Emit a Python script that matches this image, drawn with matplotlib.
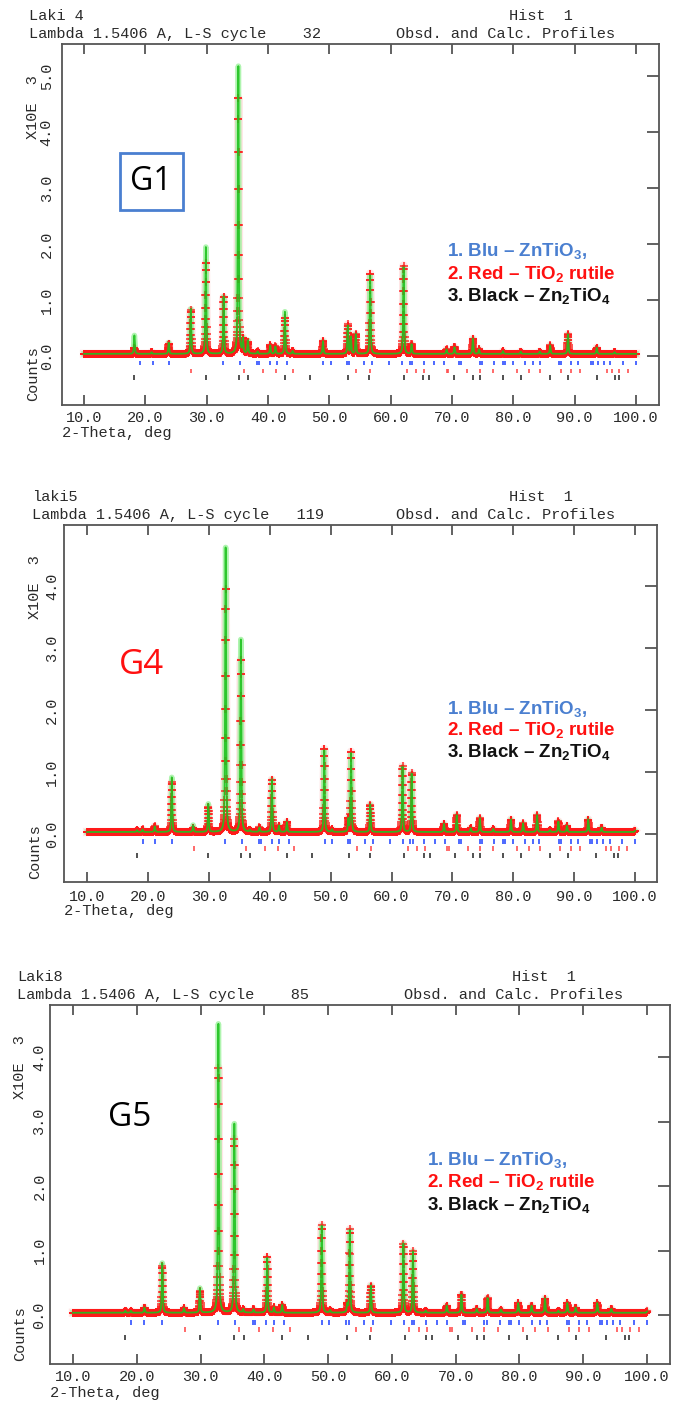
import numpy as np
import matplotlib
matplotlib.use("Agg")
import matplotlib.pyplot as plt
from matplotlib.patches import Rectangle

W, H = 679, 1405

plt.rcParams["mathtext.fontset"] = "custom"
plt.rcParams["mathtext.rm"] = "Liberation Sans:bold"
plt.rcParams["mathtext.it"] = "Liberation Sans:bold"
plt.rcParams["mathtext.bf"] = "Liberation Sans:bold"

MONO = "Liberation Mono"
INK = "#2a2a2a"

# reflection markers (2-theta, deg)
ZNTIO3_REFL = [19.1, 21.2, 23.9, 32.7, 35.4, 38.2, 38.6, 40.3, 41.5, 43.1, 49.0, 50.2,
               52.8, 53.2, 55.7, 57.0, 59.8, 61.9, 63.1, 63.5, 65.4, 67.1, 68.7, 71.1,
               71.4, 74.5, 74.9, 76.9, 78.3, 78.7, 79.9, 81.9, 83.2, 84.3, 87.5, 87.8,
               89.4, 90.6, 92.6, 93.0, 93.8, 94.7, 95.8, 97.9, 100.0]
RUTILE_REFL = [27.5, 36.1, 39.2, 41.3, 44.0, 54.4, 56.7, 62.7, 64.2, 65.5, 69.1, 69.4,
               72.5, 74.5, 76.6, 80.6, 82.5, 84.4, 87.7, 89.4, 90.9, 95.3, 96.1, 97.3, 98.7]
ZN2TIO4_REFL = [18.2, 29.85, 35.2, 36.8, 42.8, 46.9, 53.0, 56.5, 62.1, 65.3, 66.3, 70.4,
                73.4, 74.5, 78.3, 81.2, 86.0, 88.9, 93.6, 96.5, 97.2]

# peak tables: position (deg), calculated and observed height (x10^3 counts over background)
G1_POS = [18.2, 21.0, 23.8, 27.4, 29.85, 32.75, 35.15, 35.9, 36.7, 38.3, 40.35, 41.2,
          42.75, 44.0, 48.95, 53.0, 53.5, 54.3, 56.65, 62.1, 63.4, 69.1, 70.4, 73.4,
          74.4, 78.3, 81.2, 84.3, 86.0, 88.9, 93.6, 96.5]
G1_CALC = [0.33, 0.03, 0.20, 0.80, 1.93, 1.03, 5.20, 0.25, 0.23, 0.04, 0.15, 0.13,
           0.76, 0.05, 0.23, 0.50, 0.30, 0.35, 1.42, 1.55, 0.17, 0.08, 0.12, 0.27,
           0.08, 0.05, 0.04, 0.04, 0.15, 0.35, 0.11, 0.03]
G1_OBS = [0.10, 0.03, 0.18, 0.78, 1.64, 1.02, 4.62, 0.25, 0.20, 0.04, 0.15, 0.13,
          0.65, 0.05, 0.23, 0.52, 0.30, 0.35, 1.45, 1.58, 0.17, 0.08, 0.12, 0.27,
          0.08, 0.05, 0.04, 0.04, 0.15, 0.35, 0.11, 0.03]

G4_POS = [18.2, 19.1, 21.1, 23.9, 27.4, 29.9, 32.75, 35.25, 36.7, 38.3, 40.35, 41.5,
          42.8, 48.95, 50.2, 52.9, 53.35, 56.5, 61.8, 63.3, 68.6, 70.7, 73.0, 74.5,
          76.7, 79.6, 81.6, 83.9, 86.0, 87.4, 88.8, 92.3, 94.5, 100.0]
G4_CALC = [0.03, 0.04, 0.09, 0.88, 0.11, 0.45, 4.63, 3.13, 0.03, 0.07, 0.85, 0.10,
           0.16, 1.33, 0.04, 0.20, 1.28, 0.44, 1.05, 0.94, 0.13, 0.27, 0.06, 0.22,
           0.05, 0.20, 0.14, 0.27, 0.03, 0.17, 0.10, 0.20, 0.07, 0.02]
G4_OBS = [0.03, 0.04, 0.09, 0.80, 0.06, 0.40, 3.95, 2.80, 0.03, 0.07, 0.85, 0.10,
          0.16, 1.35, 0.04, 0.20, 1.30, 0.44, 1.06, 0.95, 0.13, 0.27, 0.06, 0.22,
          0.05, 0.20, 0.14, 0.27, 0.03, 0.17, 0.10, 0.20, 0.07, 0.02]

G5_POS = [18.2, 19.1, 21.2, 24.0, 27.4, 29.9, 32.8, 35.3, 36.7, 38.3, 40.45, 41.5,
          42.8, 49.0, 50.3, 53.0, 53.4, 56.7, 61.8, 63.3, 65.3, 68.6, 70.9, 73.3,
          75.0, 77.1, 79.8, 81.9, 84.0, 86.1, 87.5, 88.8, 92.2, 94.4, 100.0]
G5_CALC = [0.03, 0.03, 0.08, 0.77, 0.07, 0.38, 4.48, 2.93, 0.05, 0.05, 0.86, 0.08,
           0.12, 1.35, 0.04, 0.12, 1.28, 0.42, 1.07, 0.95, 0.03, 0.11, 0.28, 0.06,
           0.23, 0.05, 0.15, 0.11, 0.22, 0.03, 0.15, 0.08, 0.15, 0.06, 0.02]
G5_OBS = [0.03, 0.03, 0.08, 0.72, 0.07, 0.33, 3.80, 2.70, 0.05, 0.05, 0.87, 0.08,
          0.12, 1.36, 0.04, 0.12, 1.29, 0.42, 1.07, 0.95, 0.03, 0.11, 0.28, 0.06,
          0.23, 0.05, 0.15, 0.11, 0.22, 0.03, 0.15, 0.08, 0.15, 0.06, 0.02]

BACKGROUND = 0.035
X_TICKS = [10, 20, 30, 40, 50, 60, 70, 80, 90, 100]

HEADERS = [("Laki 4", "   32"), ("laki5", "  119"), ("Laki8", "   85")]
TAGS = ["G1", "G4", "G5"]


def fx(px):
    return px / W


def fy(py):
    return 1 - py / H


def profile(tth, pos, heights, fwhm=0.18, eta=0.6):
    y = np.full_like(tth, BACKGROUND)
    for p, h in zip(pos, heights):
        d = (tth - p) / (fwhm / 2)
        y += h * (eta / (1 + d ** 2) + (1 - eta) * np.exp(-np.log(2) * d ** 2))
    return y


def draw_panel(fig, box, xlim, ylim, nmax, pos, calc, obs, rows, ypad, xpad):
    l, t, r, b = box
    ax = fig.add_axes([fx(l), fy(b), (r - l) / W, (b - t) / H])
    tth = np.arange(10.0, 100.001, 0.02)
    y_obs = profile(tth, pos, obs)
    y_calc = profile(tth, pos, calc)

    ax.plot(tth, y_obs, color="#ff9c9c", lw=6, alpha=0.25, zorder=1)
    ax.plot(tth, y_calc, color="#8ef08e", lw=4, alpha=0.7, zorder=2)
    ax.plot(tth, y_obs, ls="none", marker="+", ms=6, mew=1.1,
            color="#ff1a1a", alpha=0.9, zorder=3)
    ax.plot(tth, y_calc, color="#1fc21f", lw=1.3, alpha=0.9, zorder=4)

    hl = 0.04
    for refl, yc, col in zip((ZNTIO3_REFL, RUTILE_REFL, ZN2TIO4_REFL), rows,
                             ("#2f4fff", "#ff5050", "#333333")):
        ax.vlines(refl, yc - hl, yc + hl, color=col, lw=1.2, zorder=3)

    ax.set_xlim(*xlim)
    ax.set_ylim(*ylim)
    ax.set_xticks(X_TICKS)
    ax.set_xticklabels([f"{v:.1f}" for v in X_TICKS], family=MONO, fontsize=11, color=INK)
    yt = list(range(0, nmax + 1))
    ax.set_yticks(yt)
    ax.set_yticklabels([f"{v:.1f}" for v in yt], family=MONO, fontsize=11, color=INK,
                       rotation=90, va="center")
    ax.tick_params(axis="x", direction="in", top=True, bottom=True, length=7,
                   width=1.3, color="#555555", pad=xpad)
    ax.tick_params(axis="y", direction="in", left=False, right=True, labelleft=True,
                   length=9, width=1.3, color="#555555", pad=ypad)
    for s in ax.spines.values():
        s.set_color("#555555")
        s.set_linewidth(1.3)
    return ax


fig = plt.figure(figsize=(W / 100, H / 100), dpi=100)

panels = [
    dict(box=(62, 44, 659, 405), xlim=(6.4, 103.75), ylim=(-0.88, 5.58), nmax=5,
         pos=G1_POS, calc=G1_CALC, obs=G1_OBS, rows=(-0.125, -0.27, -0.39),
         ypad=6, xpad=4, head_x=29, hist_x=509, obsd_r=615,
         ylab=(33, 107, 374), xlab=(62, 433), leg=(447, 251, 22.5)),
    dict(box=(64, 525, 657, 882), xlim=(6.2, 103.6), ylim=(-0.77, 4.98), nmax=4,
         pos=G4_POS, calc=G4_CALC, obs=G4_OBS, rows=(-0.11, -0.23, -0.35),
         ypad=3.5, xpad=5.5, head_x=32, hist_x=509, obsd_r=615,
         ylab=(35, 587, 852), xlab=(64, 911), leg=(447, 709, 21.5)),
    dict(box=(50, 1005, 670, 1364), xlim=(6.4, 103.6), ylim=(-0.76, 4.81), nmax=4,
         pos=G5_POS, calc=G5_CALC, obs=G5_OBS, rows=(-0.12, -0.23, -0.35),
         ypad=2.5, xpad=4.5, head_x=17, hist_x=512, obsd_r=623,
         ylab=(20, 1067, 1334), xlab=(50, 1393), leg=(427, 1160, 22.5)),
]

for i, p in enumerate(panels):
    ax = draw_panel(fig, p["box"], p["xlim"], p["ylim"], p["nmax"], p["pos"],
                    p["calc"], p["obs"], p["rows"], p["ypad"], p["xpad"])
    top = p["box"][1]
    name, cyc = HEADERS[i]
    tk = dict(family=MONO, fontsize=11, color=INK, va="center")
    fig.text(fx(p["head_x"]), fy(top - 28), name, ha="left", **tk)
    fig.text(fx(p["head_x"]), fy(top - 10), f"Lambda 1.5406 A, L-S cycle {cyc}", ha="left", **tk)
    fig.text(fx(p["hist_x"]), fy(top - 28), "Hist  1", ha="left", **tk)
    fig.text(fx(p["obsd_r"]), fy(top - 10), "Obsd. and Calc. Profiles", ha="right", **tk)

    lx, yt, yc = p["ylab"]
    fig.text(fx(lx), fy(yt), "X10E  3", rotation=90, ha="center", va="center",
             family=MONO, fontsize=11, color=INK)
    fig.text(fx(lx), fy(yc), "Counts", rotation=90, ha="center", va="center",
             family=MONO, fontsize=11, color=INK)
    fig.text(fx(p["xlab"][0]), fy(p["xlab"][1]), "2-Theta, deg", ha="left", va="center",
             family=MONO, fontsize=11, color=INK)

    gx, gy, gdy = p["leg"]
    lk = dict(family="Liberation Sans", fontweight="bold", fontsize=13.5, ha="left", va="center")
    fig.text(fx(gx), fy(gy), "1. Blu \u2013 ZnTiO$_3$,", color="#4a7fd0", **lk)
    fig.text(fx(gx), fy(gy + gdy), "2. Red \u2013 TiO$_2$ rutile", color="#ff1010", **lk)
    fig.text(fx(gx), fy(gy + 2 * gdy), "3. Black \u2013 Zn$_2$TiO$_4$", color="#111111", **lk)

# sample tags
fig.add_artist(Rectangle((fx(120), fy(210)), 63 / W, 57 / H, transform=fig.transFigure,
                         facecolor="white", edgecolor="#4a7fd0", lw=2))
fig.text(fx(151), fy(182), TAGS[0], family="Open Sans", fontsize=23, color="black",
         ha="center", va="center")
fig.text(fx(141), fy(665), TAGS[1], family="Open Sans", fontsize=25, color="#ff1010",
         ha="center", va="center")
fig.text(fx(130), fy(1118), TAGS[2], family="Open Sans", fontsize=24, color="black",
         ha="center", va="center")

fig.savefig("out.png", dpi=100)
